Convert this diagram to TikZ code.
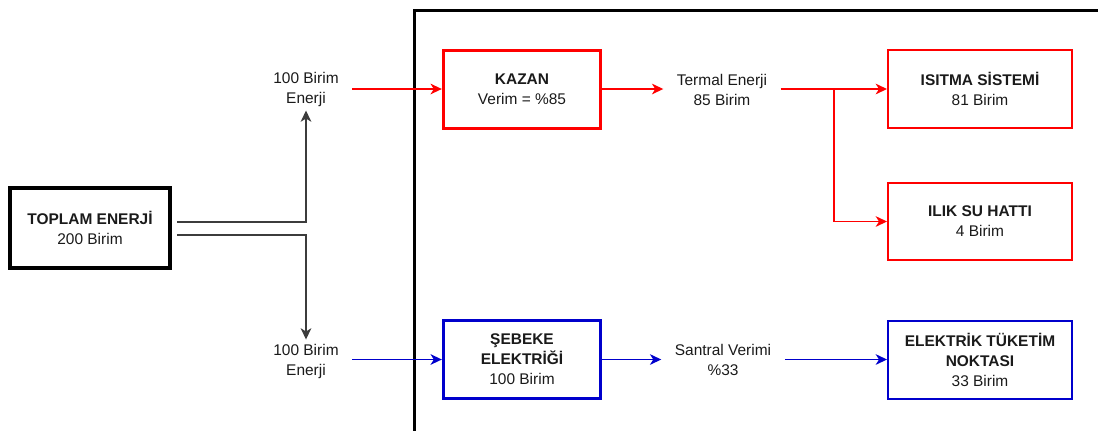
\documentclass[tikz,border=0pt]{standalone}
\usepackage{fontspec}
\setmainfont{Liberation Sans}
\usetikzlibrary{arrows.meta,calc}
\definecolor{dred}{HTML}{FF0000}
\definecolor{dblue}{HTML}{0000CC}
\definecolor{ink}{HTML}{1A1A1A}
\begin{document}
\begin{tikzpicture}[x=0.75pt,y=-0.75pt,
  every node/.style={font=\fontsize{11.6pt}{15pt}\selectfont, text=ink},
  boxnode/.style={draw, rectangle, align=center, inner sep=2pt, minimum height=58.5pt},
  bigbox/.style={boxnode, line width=3pt, draw=black, minimum width=120pt, minimum height=60pt},
  midbox/.style={boxnode, line width=2.25pt, minimum width=118pt},
  endbox/.style={boxnode, line width=1.5pt, minimum width=138pt},
  lbl/.style={align=center, inner sep=3pt},
  tip/.style={-{Stealth[length=8.5pt,width=8pt,inset=2.5pt]}},
  conn/.style={line width=1pt, tip},
  blk/.style={conn, draw=ink!85},
  rline/.style={conn, draw=dred},
  bline/.style={conn, draw=dblue},
]
\useasboundingbox (0,0) rectangle (1098,430);
% frame
\draw[line width=2.25pt] (414,432) -- (414,10) -- (1100,10);

% nodes
\node[bigbox] (toplam) at (90,228) {\textbf{TOPLAM ENERJİ}\\200 Birim};
\node[lbl] (lab1) at (306,89) {100 Birim\\Enerji};
\node[lbl] (lab2) at (306,361) {100 Birim\\Enerji};

\node[midbox, draw=dred] (kazan) at (522,89) {\textbf{KAZAN}\\Verim = \%85};
\node[lbl] (termal) at (722,90) {Termal Enerji\\85 Birim};
\node[endbox, draw=dred] (isitma) at (980,89) {\textbf{ISITMA SİSTEMİ}\\81 Birim};
\node[endbox, draw=dred, minimum height=58pt] (ilik) at (980,221.5) {\textbf{ILIK SU HATTI}\\4 Birim};

\node[midbox, draw=dblue] (sebeke) at (522,359.5) {\textbf{ŞEBEKE}\\\textbf{ELEKTRİĞİ}\\100 Birim};
\node[lbl] (santral) at (723,360) {Santral Verimi\\\%33};
\node[endbox, draw=dblue] (elektrik) at (980,359.5) {\textbf{ELEKTRİK TÜKETİM}\\\textbf{NOKTASI}\\33 Birim};

% connectors
\draw[blk] ([xshift=3.75pt,yshift=4.5pt]toplam.east) -| (lab1.south);
\draw[blk] ([xshift=3.75pt,yshift=-5.25pt]toplam.east) -| (lab2.north);

\draw[rline, shorten <=7pt] (lab1.east |- kazan.west) -- (kazan.west);
\draw[bline, shorten <=7pt] (lab2.east |- sebeke.west) -- (sebeke.west);

\draw[rline, shorten >=7pt] (kazan.east) -- (termal.west |- kazan.east);
\coordinate (br) at (834,89);
\draw[rline, shorten <=7pt] (termal.east |- isitma.west) -- (isitma.west);
\draw[rline] (br) |- (ilik.west);

\draw[bline, shorten >=7pt] (sebeke.east) -- (santral.west |- sebeke.east);
\draw[bline, shorten <=7pt] (santral.east |- elektrik.west) -- (elektrik.west);
\end{tikzpicture}
\end{document}
